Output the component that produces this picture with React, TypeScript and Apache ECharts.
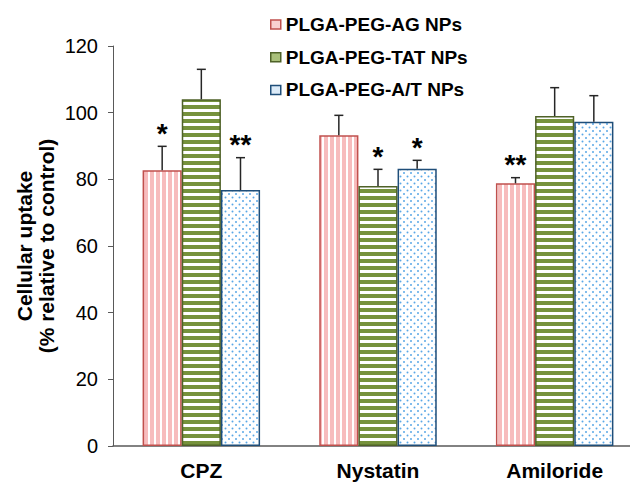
import React, { useEffect, useRef } from "react";
import * as echarts from "echarts";

const categories = ["CPZ", "Nystatin", "Amiloride"];
const seriesNames = ["PLGA-PEG-AG NPs", "PLGA-PEG-TAT NPs", "PLGA-PEG-A/T NPs"];
const agValues = [82.7, 93.2, 78.8];
const tatValues = [104.0, 78.0, 99.0];
const atValues = [76.8, 83.2, 97.3];
const agErrors = [7.2, 6.0, 1.7];
const tatErrors = [9.0, 5.0, 8.5];
const atErrors = [9.7, 2.5, 7.8];
const agSig = ["*", "", "**"];
const tatSig = ["", "*", ""];
const atSig = ["**", "*", ""];
const yMin = 0;
const yMax = 120;
const yInterval = 20;

const FONT = "Arial, 'Liberation Sans', sans-serif";
const GAP = 0.335;

function makeCanvas(w: number, h: number, draw: (ctx: CanvasRenderingContext2D) => void) {
  const c = document.createElement("canvas");
  c.width = w;
  c.height = h;
  const ctx = c.getContext("2d")!;
  draw(ctx);
  return c;
}

export default function App() {
  const ref = useRef<HTMLDivElement>(null);
  useEffect(() => {
    if (!ref.current) return;
    const chart = echarts.init(ref.current, null, { renderer: "svg" });

    const pinkStripe = makeCanvas(6, 6, (ctx) => {
      ctx.fillStyle = "#ffffff";
      ctx.fillRect(0, 0, 6, 6);
      ctx.fillStyle = "#f7bcbd";
      ctx.fillRect(0, 0, 4, 6);
    });
    const greenStripe = makeCanvas(7, 7, (ctx) => {
      ctx.fillStyle = "#ffffff";
      ctx.fillRect(0, 0, 7, 7);
      ctx.fillStyle = "#76923c";
      ctx.fillRect(0, 0, 7, 4);
    });
    const blueDots = makeCanvas(7, 7, (ctx) => {
      ctx.fillStyle = "#ffffff";
      ctx.fillRect(0, 0, 7, 7);
      ctx.fillStyle = "#5aa7e6";
      ctx.beginPath();
      ctx.arc(1.5, 1.5, 1.0, 0, Math.PI * 2);
      ctx.fill();
      ctx.beginPath();
      ctx.arc(5, 5, 1.0, 0, Math.PI * 2);
      ctx.fill();
    });

    const fills = [
      { image: pinkStripe, repeat: "repeat" },
      { image: greenStripe, repeat: "repeat" },
      { image: blueDots, repeat: "repeat" },
    ];
    const borders = ["#c0504d", "#4f6228", "#1f4e79"];
    const legendFills = ["#f9d0d0", "#a9c07a", "#dcebf8"];
    const values = [agValues, tatValues, atValues];
    const errors = [agErrors, tatErrors, atErrors];
    const sigs = [agSig, tatSig, atSig];

    const barSeries = seriesNames.map((name, k) => ({
      name,
      type: "bar",
      data: values[k],
      barGap: "0%",
      barCategoryGap: GAP * 100 + "%",
      itemStyle: { color: fills[k], borderColor: borders[k], borderWidth: 1.5 },
      z: 2,
    }));

    const errSeries = seriesNames.map((name, k) => ({
      type: "custom",
      name: name + " err",
      z: 5,
      data: categories.map((c, i) => [i, values[k][i], errors[k][i]]),
      renderItem: (params: any, api: any) => {
        const i = api.value(0);
        const v = api.value(1);
        const e = api.value(2);
        const base = api.coord([i, v]);
        const top = api.coord([i, v + e]);
        const band = api.size([1, 0])[0];
        const bw = (band * (1 - GAP)) / 3;
        const x = base[0] + (k - 1) * bw;
        const sig = sigs[k][params.dataIndex];
        const children: any[] = [
          {
            type: "line",
            shape: { x1: x, y1: base[1], x2: x, y2: top[1] },
            style: { stroke: "#262626", lineWidth: 1.5 },
          },
          {
            type: "line",
            shape: { x1: x - 4.5, y1: top[1], x2: x + 4.5, y2: top[1] },
            style: { stroke: "#262626", lineWidth: 1.5 },
          },
        ];
        if (sig) {
          children.push({
            type: "text",
            style: {
              text: sig,
              x: x,
              y: top[1] - 13,
              align: "center",
              verticalAlign: "middle",
              font: "bold 28px " + FONT,
              fill: "#000000",
            },
          });
        }
        return { type: "group", children };
      },
    }));

    chart.setOption({
      animation: false,
      backgroundColor: "#ffffff",
      grid: { left: 113, top: 46, width: 530, height: 400, outerBoundsMode: "none" },
      legend: {
        orient: "vertical",
        left: 265,
        top: 10,
        itemWidth: 10,
        itemHeight: 9,
        itemGap: 13.7,
        icon: "rect",
        textStyle: { fontSize: 19, fontWeight: "bold", color: "#000000", fontFamily: FONT, lineHeight: 19 },
        data: seriesNames.map((n, k) => ({
          name: n,
          itemStyle: { color: legendFills[k], borderColor: borders[k], borderWidth: 1.5 },
        })),
      },
      xAxis: {
        type: "category",
        data: categories,
        axisLine: { show: true, lineStyle: { color: "#595959", width: 1.5 } },
        axisTick: { show: false },
        axisLabel: {
          fontSize: 21,
          lineHeight: 21,
          fontWeight: "bold",
          color: "#000000",
          fontFamily: FONT,
          margin: 14,
        },
      },
      yAxis: {
        type: "value",
        min: yMin,
        max: yMax,
        interval: yInterval,
        splitLine: { show: false },
        axisLine: { show: true, lineStyle: { color: "#595959", width: 1 } },
        axisTick: { show: true, length: 5, lineStyle: { color: "#595959", width: 1 } },
        axisLabel: { fontSize: 20, color: "#000000", fontFamily: FONT, margin: 15 },
      },
      graphic: [
        {
          type: "text",
          x: 35,
          y: 246,
          rotation: Math.PI / 2,
          style: {
            text: "Cellular uptake\n(% relative to control)",
            align: "center",
            verticalAlign: "middle",
            font: "bold 21px " + FONT,
            lineHeight: 22,
            fill: "#000000",
          },
        },
      ],
      series: [...barSeries, ...errSeries],
    });

    return () => chart.dispose();
  }, []);

  return (
    <div
      ref={ref}
      style={{ position: "fixed", left: 0, top: 0, width: 630, height: 482 }}
    />
  );
}
